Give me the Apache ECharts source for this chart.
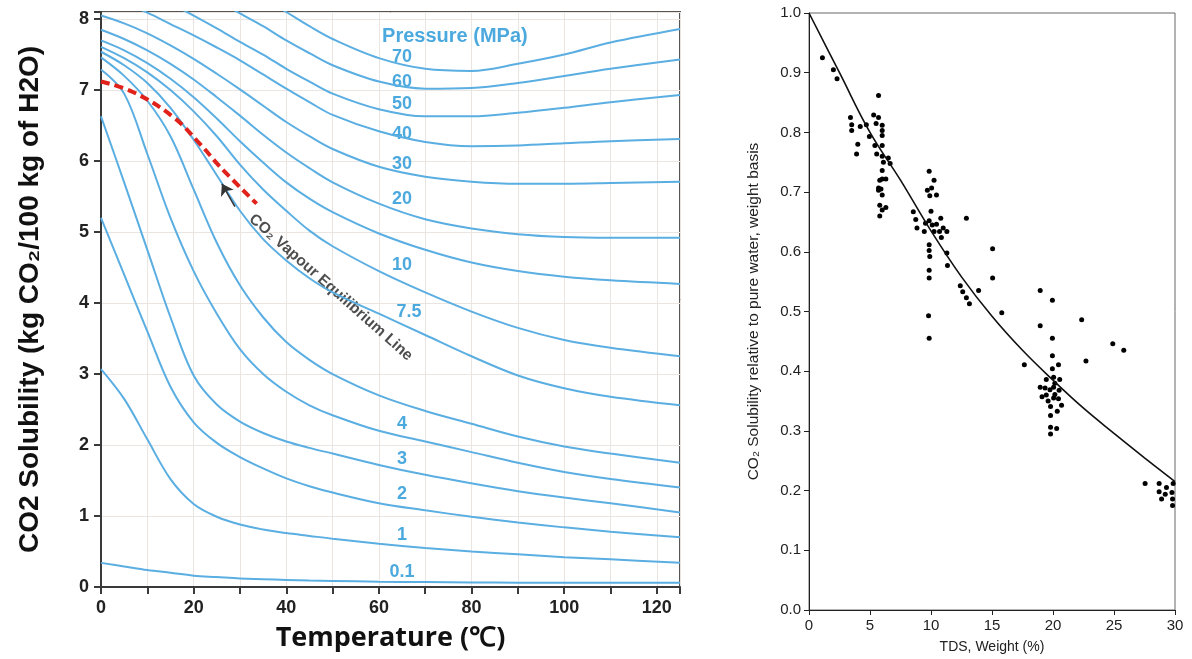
<!DOCTYPE html>
<html>
<head>
<meta charset="utf-8">
<title>CO2 solubility</title>
<script src="https://cdn.jsdelivr.net/npm/echarts@6/dist/echarts.min.js"></script>
<style>
  html, body { margin: 0; padding: 0; background: #fff; }
  #chart { width: 1192px; height: 659px; }
</style>
</head>
<body>
<div id="chart"></div>
<script>
// ---- left panel: CO2 solubility vs temperature, one curve per pressure ----
const temps = [0, 5, 10, 15, 20, 25, 30, 35, 40, 45, 50, 60, 70, 80, 90, 100, 110, 125];

const p01 = [0.34, 0.29, 0.24, 0.2, 0.16, 0.14, 0.12, 0.11, 0.1, 0.09, 0.085, 0.075, 0.07, 0.065, 0.06, 0.06, 0.06, 0.06];
const p1 = [3.07, 2.65, 2.08, 1.52, 1.17, 0.99, 0.88, 0.81, 0.76, 0.72, 0.68, 0.61, 0.55, 0.5, 0.46, 0.42, 0.39, 0.34];
const p2 = [5.2, 4.4, 3.6, 2.82, 2.32, 2.03, 1.83, 1.67, 1.53, 1.42, 1.33, 1.18, 1.08, 0.99, 0.91, 0.84, 0.78, 0.7];
const p3 = [6.63, 5.7, 4.75, 3.8, 2.98, 2.57, 2.33, 2.17, 2.05, 1.96, 1.88, 1.72, 1.58, 1.46, 1.35, 1.26, 1.18, 1.05];
const p4 = [7.29, 6.95, 6.1, 5.2, 4.45, 3.85, 3.35, 3.0, 2.75, 2.56, 2.42, 2.2, 2.05, 1.9, 1.75, 1.62, 1.52, 1.4];
const p5 = [7.46, 7.2, 6.85, 6.35, 5.6, 4.85, 4.25, 3.8, 3.45, 3.2, 3.0, 2.7, 2.48, 2.3, 2.12, 1.98, 1.88, 1.75];
const p75 = [7.54, 7.35, 7.1, 6.75, 6.3, 5.8, 5.3, 4.9, 4.6, 4.35, 4.15, 3.85, 3.55, 3.25, 2.98, 2.8, 2.68, 2.56];
const p10 = [7.61, 7.45, 7.25, 7.0, 6.7, 6.35, 5.95, 5.6, 5.3, 5.02, 4.8, 4.45, 4.15, 3.88, 3.65, 3.48, 3.37, 3.25];
const p15 = [7.7, 7.56, 7.38, 7.16, 6.9, 6.6, 6.28, 5.98, 5.7, 5.47, 5.28, 4.98, 4.75, 4.57, 4.45, 4.37, 4.32, 4.27];
const p20 = [7.85, 7.72, 7.56, 7.37, 7.15, 6.9, 6.64, 6.37, 6.12, 5.9, 5.7, 5.4, 5.18, 5.05, 4.97, 4.93, 4.92, 4.92];
const p30 = [8.05, 7.94, 7.8, 7.63, 7.44, 7.23, 7.01, 6.78, 6.55, 6.35, 6.17, 5.92, 5.78, 5.71, 5.68, 5.68, 5.69, 5.71];
const p40 = [8.35, 8.23, 8.09, 7.93, 7.77, 7.6, 7.42, 7.22, 7.02, 6.83, 6.65, 6.42, 6.27, 6.21, 6.22, 6.25, 6.28, 6.31];
const p50 = [8.7, 8.55, 8.4, 8.22, 8.05, 7.87, 7.68, 7.5, 7.3, 7.12, 6.95, 6.73, 6.63, 6.63, 6.68, 6.75, 6.83, 6.93];
const p60 = [9.1, 8.95, 8.8, 8.62, 8.45, 8.27, 8.08, 7.9, 7.7, 7.52, 7.35, 7.12, 7.02, 7.03, 7.1, 7.2, 7.3, 7.43];
const p70 = [9.5, 9.35, 9.2, 9.02, 8.85, 8.67, 8.48, 8.3, 8.1, 7.9, 7.72, 7.45, 7.3, 7.27, 7.37, 7.5, 7.67, 7.86];

const pressureCurves = [p01, p1, p2, p3, p4, p5, p75, p10, p15, p20, p30, p40, p50, p60, p70];

// vapour equilibrium line (red dashed)
const vapourT = [0, 7, 15.6, 21.4, 25.7, 33.6];
const vapourS = [7.12, 6.97, 6.62, 6.24, 5.92, 5.4];

// pressure labels written on the chart
const pressLabelText = ['70', '60', '50', '40', '30', '20', '10', '7.5', '4', '3', '2', '1', '0.1'];
const pressLabelT = [65, 65, 65, 65, 65, 65, 65, 66.5, 65, 65, 65, 65, 65];
const pressLabelS = [7.46, 7.12, 6.8, 6.38, 5.96, 5.47, 4.53, 3.87, 2.29, 1.8, 1.31, 0.73, 0.21];

// ---- right panel: solubility relative to pure water vs TDS ----
const brinePoints = [
  [1.1, 0.925], [2.0, 0.905], [2.3, 0.89],
  [3.4, 0.825], [3.5, 0.813], [3.5, 0.803], [4.2, 0.81], [4.7, 0.813], [4.0, 0.78], [3.9, 0.764],
  [4.95, 0.793], [5.3, 0.829], [5.5, 0.815], [5.7, 0.862], [5.7, 0.825], [6.0, 0.812], [6.0, 0.803],
  [6.0, 0.795], [6.0, 0.778], [5.4, 0.778], [5.55, 0.764], [6.0, 0.76], [6.1, 0.75], [6.5, 0.757],
  [6.65, 0.748], [6.0, 0.736], [6.0, 0.722], [5.8, 0.72], [6.3, 0.722], [5.7, 0.707], [5.9, 0.705],
  [5.7, 0.703], [6.0, 0.695], [5.8, 0.678], [6.3, 0.674], [6.0, 0.67], [5.8, 0.66],
  [8.55, 0.667], [8.75, 0.654], [8.85, 0.64], [9.45, 0.634], [9.85, 0.735], [10.25, 0.72], [9.7, 0.703],
  [10.05, 0.707], [9.9, 0.694], [10.45, 0.695], [10.0, 0.668], [9.55, 0.648], [9.85, 0.652], [10.1, 0.645],
  [10.45, 0.646], [10.8, 0.656], [10.25, 0.634], [10.7, 0.634], [11.0, 0.64], [11.3, 0.634], [10.85, 0.624],
  [9.85, 0.612], [9.85, 0.602], [9.9, 0.592], [11.3, 0.598], [11.35, 0.577], [9.85, 0.569], [9.85, 0.556],
  [9.8, 0.493], [12.9, 0.656], [12.4, 0.543], [12.6, 0.533], [12.9, 0.523], [13.15, 0.513], [13.9, 0.535],
  [15.05, 0.605], [15.05, 0.556], [15.8, 0.498], [18.95, 0.535], [19.95, 0.519], [22.35, 0.486], [18.95, 0.476],
  [9.85, 0.455], [17.65, 0.411], [19.95, 0.455], [19.95, 0.426], [22.7, 0.417], [24.9, 0.446], [25.8, 0.435],
  [19.95, 0.404], [20.45, 0.411], [18.95, 0.373], [19.45, 0.386], [20.05, 0.39], [20.55, 0.386], [20.15, 0.38],
  [19.35, 0.372], [19.75, 0.369], [20.05, 0.373], [20.5, 0.368], [19.1, 0.357], [19.45, 0.36], [20.15, 0.361],
  [20.45, 0.354], [19.6, 0.35], [20.05, 0.355], [19.8, 0.341], [20.7, 0.343], [20.35, 0.333], [19.8, 0.326],
  [19.8, 0.306], [20.3, 0.304], [19.8, 0.295],
  [27.55, 0.212], [28.7, 0.212], [29.3, 0.205], [29.85, 0.212], [28.7, 0.198], [29.2, 0.194], [29.75, 0.197],
  [28.9, 0.186], [29.8, 0.186], [29.8, 0.175]
];
const fitTds = [0, 2.5, 5, 7.5, 10, 12.5, 15, 17.5, 20, 22.5, 25, 27.5, 30];
const fitRel = [1.0, 0.9, 0.8, 0.72, 0.635, 0.558, 0.492, 0.435, 0.385, 0.338, 0.296, 0.255, 0.215];

const curveBlue = '#5aaee2';
const labelBlue = '#1e93d6';

const chart = echarts.init(document.getElementById('chart'));

const series = [];
pressureCurves.forEach(function (arr) {
  series.push({
    type: 'line',
    xAxisIndex: 0,
    yAxisIndex: 0,
    data: temps.map(function (t, i) { return [t, arr[i]]; }),
    showSymbol: false,
    smooth: 0.35,
    silent: true,
    lineStyle: { color: curveBlue, width: 2 }
  });
});

series.push({
  type: 'line',
  xAxisIndex: 0,
  yAxisIndex: 0,
  data: vapourT.map(function (t, i) { return [t, vapourS[i]]; }),
  showSymbol: false,
  smooth: 0.4,
  lineStyle: { color: '#e0221b', width: 4, type: [9, 5] },
  markLine: {
    silent: true,
    symbol: ['none', 'arrow'],
    symbolSize: 11,
    label: { show: false },
    lineStyle: { color: '#333', width: 1.5, type: 'solid' },
    data: [[{ coord: [28.9, 5.36] }, { coord: [26.1, 5.68] }]]
  }
});

// text labels (pressure values, title, vapour line caption)
series.push({
  type: 'scatter',
  xAxisIndex: 0,
  yAxisIndex: 0,
  symbolSize: 0,
  silent: true,
  data: pressLabelText.map(function (t, i) {
    return { name: t, value: [pressLabelT[i], pressLabelS[i]] };
  }).concat([
    { name: 'Pressure (MPa)', value: [76.4, 7.75], label: { fontSize: 20 } },
    {
      name: 'CO\u2082 Vapour Equilibrium Line', value: [49.6, 4.22],
      label: { color: '#222', fontSize: 15.5, rotate: -41.5 }
    }
  ]),
  label: {
    show: true,
    position: 'inside',
    formatter: '{b}',
    color: labelBlue,
    fontSize: 18,
    fontWeight: 'bold',
    fontFamily: 'Liberation Sans'
  }
});

series.push({
  type: 'scatter',
  xAxisIndex: 1,
  yAxisIndex: 1,
  data: brinePoints,
  symbolSize: 5,
  itemStyle: { color: '#000', opacity: 1 },
  silent: true
});
series.push({
  type: 'line',
  xAxisIndex: 1,
  yAxisIndex: 1,
  data: fitTds.map(function (t, i) { return [t, fitRel[i]]; }),
  showSymbol: false,
  smooth: 0.4,
  silent: true,
  lineStyle: { color: '#111', width: 1.6 }
});

chart.setOption({
  animation: false,
  grid: [
    { left: 101, top: 12, width: 579, height: 575, show: true, borderColor: '#555', borderWidth: 2 },
    { left: 809, top: 13, width: 366, height: 600, show: true, borderColor: '#666', borderWidth: 1 }
  ],
  xAxis: [
    {
      type: 'value',
      gridIndex: 0,
      min: 0,
      max: 125,
      interval: 10,
      name: 'Temperature (\u2103)',
      nameLocation: 'middle',
      nameGap: 38,
      nameTextStyle: { fontSize: 27, fontWeight: 'bold', fontFamily: 'Open Sans', color: '#111' },
      axisLine: { lineStyle: { color: '#3a3a3a', width: 2 } },
      axisTick: { length: 7, lineStyle: { color: '#3a3a3a', width: 2 } },
      axisLabel: {
        formatter: function (v) { return (v % 20 === 0 && v <= 120) ? v : ''; },
        fontSize: 18,
        fontWeight: 'bold',
        fontFamily: 'Liberation Sans',
        color: '#222',
        margin: 12
      },
      splitLine: { show: true, lineStyle: { color: '#ebe5e1', width: 1 } }
    },
    {
      type: 'value',
      gridIndex: 1,
      min: 0,
      max: 30,
      interval: 5,
      name: 'TDS, Weight (%)',
      nameLocation: 'middle',
      nameGap: 30,
      nameTextStyle: { fontSize: 14, fontFamily: 'Liberation Sans', color: '#222' },
      axisLine: { lineStyle: { color: '#222', width: 1 } },
      axisTick: { length: 5, lineStyle: { color: '#222' } },
      axisLabel: { fontSize: 15, fontFamily: 'Liberation Sans', color: '#222', margin: 8 },
      splitLine: { show: false }
    }
  ],
  yAxis: [
    {
      type: 'value',
      gridIndex: 0,
      min: 0,
      max: 8.1,
      interval: 1,
      name: 'CO2 Solubility (kg CO\u2082/100 kg of H2O)',
      nameLocation: 'middle',
      nameGap: 57,
      nameTextStyle: { fontSize: 28, fontWeight: 'bold', fontFamily: 'Liberation Sans', color: '#111' },
      axisLine: { lineStyle: { color: '#3a3a3a', width: 2 } },
      axisTick: { length: 7, lineStyle: { color: '#3a3a3a', width: 2 } },
      axisLabel: {
        formatter: function (v) { return Number.isInteger(v) ? v : ''; },
        fontSize: 18,
        fontWeight: 'bold',
        fontFamily: 'Liberation Sans',
        color: '#222',
        margin: 12
      },
      splitLine: { show: true, lineStyle: { color: '#ebe5e1', width: 1 } }
    },
    {
      type: 'value',
      gridIndex: 1,
      min: 0,
      max: 1,
      interval: 0.1,
      name: 'CO\u2082 Solubility relative to pure water, weight basis',
      nameLocation: 'middle',
      nameGap: 47,
      nameTextStyle: { fontSize: 15.5, fontFamily: 'Liberation Sans', color: '#222' },
      axisLine: { lineStyle: { color: '#222', width: 1 } },
      axisTick: { length: 5, lineStyle: { color: '#222' } },
      axisLabel: {
        formatter: function (v) { return v.toFixed(1); },
        fontSize: 15,
        fontFamily: 'Liberation Sans',
        color: '#222',
        margin: 8
      },
      splitLine: { show: false }
    }
  ],
  series: series
});

window.addEventListener('resize', function () {
  chart.resize();
});
</script>
</body>
</html>
